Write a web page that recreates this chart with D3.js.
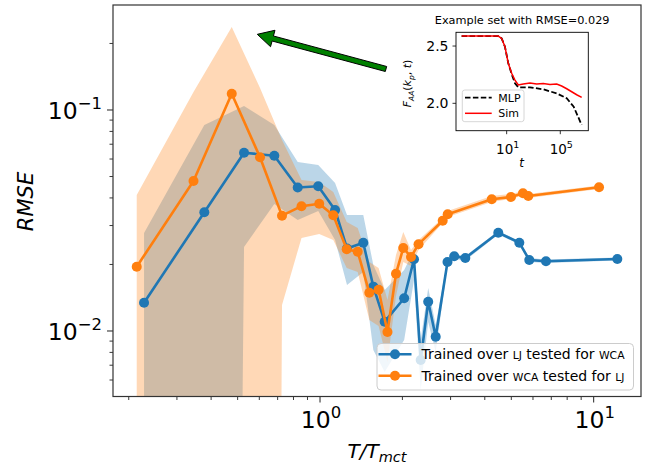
<!DOCTYPE html>
<html><head><meta charset="utf-8">
<script src="https://cdn.jsdelivr.net/npm/d3@7/dist/d3.min.js"></script>
<style>body{margin:0;background:#fff}svg{display:block}text{font-family:"DejaVu Sans",sans-serif;fill:#000}</style>
</head><body><svg id="c" width="662" height="467"></svg>
<script>
// ---------- data ----------
const blueT = [0.2275,0.3778,0.5277,0.6808,0.8289,0.985,1.135,1.255,1.439,1.566,1.723,2.030,2.205,2.333,2.485,2.647,2.923,3.093,3.396,4.481,5.349,5.817,6.694,12.20];
const blueRMSE = [0.01343,0.03444,0.06408,0.06210,0.04459,0.04516,0.03528,0.02362,0.02509,0.01587,0.01102,0.01407,0.02111,0.00739,0.01357,0.00942,0.02052,0.02178,0.02140,0.02785,0.02509,0.02096,0.02067,0.02118];
const blueLow = [1e-20,1e-20,0.02399,0.03756,0.03179,0.03491,0.02581,0.01615,0.01849,0.00820,0.00653,0.00911,0.01701,0.00541,0.01098,0.00804,0.01989,0.02118,0.02084,0.02733,0.02463,0.02052,0.02031,0.02084];
const blueHigh = [0.02775,0.08552,0.1042,0.08552,0.05817,0.05638,0.04674,0.03349,0.03349,0.01989,0.01533,0.01888,0.02325,0.00911,0.01566,0.01064,0.02118,0.02231,0.02184,0.02834,0.02553,0.02140,0.02106,0.02152];

const orangeT = [0.2139,0.3449,0.4758,0.6036,0.7263,0.8558,0.9933,1.118,1.252,1.373,1.514,1.637,1.764,1.895,2.015,2.150,2.291,2.807,2.928,4.242,4.986,5.516,5.768,10.46];
const orangeRMSE = [0.01954,0.04773,0.1185,0.06114,0.03324,0.03671,0.03764,0.03342,0.02343,0.02283,0.01490,0.01538,0.00990,0.01817,0.02375,0.02162,0.02471,0.03155,0.03374,0.03944,0.04040,0.04199,0.04083,0.04468];
const orangeLow = [1e-20,1e-20,1e-20,1e-20,0.01311,0.02635,0.02747,0.02581,0.01928,0.01849,0.01122,0.01053,0.00724,0.01440,0.02052,0.01968,0.02325,0.03081,0.03280,0.03835,0.03957,0.04103,0.03998,0.04390];
const orangeHigh = [0.04125,0.1206,0.2375,0.1258,0.07315,0.04824,0.04723,0.04256,0.03113,0.02925,0.02052,0.01928,0.01381,0.02207,0.02805,0.02325,0.02581,0.03246,0.03491,0.04083,0.04168,0.04300,0.04168,0.04554];

const xMajor = [1, 10];
const xMinor = [0.2,0.3,0.4,0.5,0.6,0.7,0.8,0.9,2,3,4,5,6,7,8,9];
const yMajor = [0.01, 0.1];
const yMinor = [0.006,0.007,0.008,0.009,0.02,0.03,0.04,0.05,0.06,0.07,0.08,0.09,0.2];
const xMajorLabels = ["0", "1"];
const yMajorLabels = ["\u22122", "\u22121"];

const legendLabels = [["Trained over ", "LJ", " tested for ", "WCA"], ["Trained over ", "WCA", " tested for ", "LJ"]];

// inset: example curve
const simT = [0.00437,2.36,4.24,7.46,13.2,23.6,41.6,73.5,173,548,1730,5380,17000,53800,127000,301000,710000,1670000,3950000];
const simF = [2.587,2.587,2.567,2.494,2.349,2.262,2.203,2.160,2.168,2.177,2.168,2.173,2.164,2.168,2.151,2.127,2.101,2.075,2.052];
const mlpT = [0.00437,2.36,4.24,7.46,13.2,23.6,41.6,73.5,548,5380,53800,301000,1000000,3950000];
const mlpF = [2.587,2.587,2.567,2.494,2.349,2.255,2.175,2.140,2.140,2.122,2.087,2.044,1.970,1.811];
const insetXTicks = [10, 100000];
const insetXLabels = ["1", "5"];
const insetYTicks = [2.0, 2.5];
const insetYLabels = ["2.0", "2.5"];

// annotation arrow (data coords): tail -> tip
const arrowTail = [1.742, 0.1533];
const arrowTip = [0.590, 0.220];

const C0 = "#1f77b4", C1 = "#ff7f0e";

// ---------- main axes ----------
const svg = d3.select("#c");
svg.append("rect").attr("width",662).attr("height",467).attr("fill","#fff");
const L = 113, R = 641, T = 5, B = 396.5;
const x = d3.scaleLog().domain([0.1752, 14.89]).range([L, R]);
const y = d3.scaleLog().domain([0.005053, 0.2986]).range([B, T]);

svg.append("clipPath").attr("id","clip").append("rect").attr("x",L).attr("y",T).attr("width",R-L).attr("height",B-T);
const plot = svg.append("g").attr("clip-path","url(#clip)");

function zipS(t, v, lo, hi){ return t.map((d,i)=>({t:d, v:v[i], lo:lo[i], hi:hi[i]})); }
const blue = zipS(blueT, blueRMSE, blueLow, blueHigh);
const orange = zipS(orangeT, orangeRMSE, orangeLow, orangeHigh);

const area = d3.area().x(d=>x(d.t)).y0(d=>y(d.lo)).y1(d=>y(d.hi));
plot.append("path").datum(blue).attr("d", area).attr("fill", C0).attr("fill-opacity", 0.3);
plot.append("path").datum(orange).attr("d", area).attr("fill", C1).attr("fill-opacity", 0.3);

const line = d3.line().x(d=>x(d.t)).y(d=>y(d.v));
[[blue, C0],[orange, C1]].forEach(([s,c])=>{
  plot.append("path").datum(s).attr("d", line).attr("fill","none").attr("stroke",c).attr("stroke-width",2.6).attr("stroke-linejoin","round");
  plot.selectAll(null).data(s).enter().append("circle").attr("cx",d=>x(d.t)).attr("cy",d=>y(d.v)).attr("r",5).attr("fill",c);
});

// ticks
const tickCol = "#222";
xMinor.forEach(v=>svg.append("line").attr("x1",x(v)).attr("x2",x(v)).attr("y1",B).attr("y2",B+3.5).attr("stroke",tickCol).attr("stroke-width",0.9));
xMajor.forEach((v,i)=>{
  svg.append("line").attr("x1",x(v)).attr("x2",x(v)).attr("y1",B).attr("y2",B+6).attr("stroke",tickCol).attr("stroke-width",1);
  const t = svg.append("text").attr("x",x(v)+1).attr("y",427.5).attr("text-anchor","middle").attr("font-size",23.5);
  t.append("tspan").text("10");
  t.append("tspan").attr("dy",-10).attr("font-size",16.5).text(xMajorLabels[i]);
});
yMinor.forEach(v=>svg.append("line").attr("x1",L-3.5).attr("x2",L).attr("y1",y(v)).attr("y2",y(v)).attr("stroke",tickCol).attr("stroke-width",0.9));
yMajor.forEach((v,i)=>{
  svg.append("line").attr("x1",L-6).attr("x2",L).attr("y1",y(v)).attr("y2",y(v)).attr("stroke",tickCol).attr("stroke-width",1);
  const t = svg.append("text").attr("x",102).attr("y",y(v)+9).attr("text-anchor","end").attr("font-size",23.5);
  t.append("tspan").text("10");
  t.append("tspan").attr("dy",-10).attr("font-size",16.5).text(yMajorLabels[i]);
});
svg.append("rect").attr("x",L).attr("y",T).attr("width",R-L).attr("height",B-T).attr("fill","none").attr("stroke","#333").attr("stroke-width",1.2);

// axis labels
const xl = svg.append("text").attr("x",377).attr("y",458).attr("text-anchor","middle").attr("font-size",20).attr("font-style","italic");
xl.append("tspan").text("T/T");
xl.append("tspan").attr("dy",4).attr("font-size",14.5).text("mct");
svg.append("text").attr("transform","translate(33,201.5) rotate(-90)").attr("text-anchor","middle").attr("font-size",21).attr("font-style","italic").text("RMSE");

// legend
const lg = svg.append("g");
lg.append("rect").attr("x",377).attr("y",343.5).attr("width",256.5).attr("height",46.5).attr("rx",4).attr("fill","#fff").attr("fill-opacity",0.8).attr("stroke","#cccccc").attr("stroke-width",1);
[[C0,354.3],[C1,375.7]].forEach(([c,yy],i)=>{
  lg.append("line").attr("x1",378.5).attr("x2",411.5).attr("y1",yy).attr("y2",yy).attr("stroke",c).attr("stroke-width",2.6);
  lg.append("circle").attr("cx",395).attr("cy",yy).attr("r",5).attr("fill",c);
  const t = lg.append("text").attr("x",421.5).attr("y",yy+5).attr("font-size",14);
  legendLabels[i].forEach((s,j)=>t.append("tspan").attr("font-size", j%2===1?10.8:14).text(s));
});

// arrow
(function(){
  const x0 = x(arrowTail[0]), y0 = y(arrowTail[1]), x1 = x(arrowTip[0]), y1 = y(arrowTip[1]);
  const dx = x1-x0, dy = y1-y0, len = Math.hypot(dx,dy), ux = dx/len, uy = dy/len, px = -uy, py = ux;
  const hw = 2.6, hh = 8.5, hl = 16;
  const bx = x1 - ux*hl, by = y1 - uy*hl;
  const pts = [[x0+px*hw,y0+py*hw],[bx+px*hw,by+py*hw],[bx+px*hh,by+py*hh],[x1,y1],[bx-px*hh,by-py*hh],[bx-px*hw,by-py*hw],[x0-px*hw,y0-py*hw]];
  svg.append("polygon").attr("points",pts.map(p=>p.join(",")).join(" ")).attr("fill","#008000").attr("stroke","#000").attr("stroke-width",1);
})();

// ---------- inset ----------
const iL = 456, iR = 588.3, iT = 32.3, iB = 130.7;
const xi = d3.scaleLog().domain([0.00166, 12300000]).range([iL, iR]);
const yi = d3.scaleLinear().domain([1.761, 2.62]).range([iB, iT]);
const ins = svg.append("g");
ins.append("rect").attr("x",iL).attr("y",iT).attr("width",iR-iL).attr("height",iB-iT).attr("fill","#fff");
ins.append("clipPath").attr("id","iclip").append("rect").attr("x",iL).attr("y",iT).attr("width",iR-iL).attr("height",iB-iT);
const ip = ins.append("g").attr("clip-path","url(#iclip)");
const iline = d3.line().x(d=>xi(d[0])).y(d=>yi(d[1]));
ip.append("path").datum(mlpT.map((t,i)=>[t,mlpF[i]])).attr("d",iline).attr("fill","none").attr("stroke","#000").attr("stroke-width",1.8).attr("stroke-dasharray","5.5,2.4");
ip.append("path").datum(simT.map((t,i)=>[t,simF[i]])).attr("d",iline).attr("fill","none").attr("stroke","#ff0000").attr("stroke-width",1.5);
insetXTicks.forEach((v,i)=>{
  ins.append("line").attr("x1",xi(v)).attr("x2",xi(v)).attr("y1",iB).attr("y2",iB+3.5).attr("stroke","#000").attr("stroke-width",0.8);
  const t = ins.append("text").attr("x",xi(v)+1).attr("y",154).attr("text-anchor","middle").attr("font-size",13.5);
  t.append("tspan").text("10");
  t.append("tspan").attr("dy",-6).attr("font-size",9.5).text(insetXLabels[i]);
});
insetYTicks.forEach((v,i)=>{
  ins.append("line").attr("x1",iL-3.5).attr("x2",iL).attr("y1",yi(v)).attr("y2",yi(v)).attr("stroke","#000").attr("stroke-width",0.8);
  ins.append("text").attr("x",448.5).attr("y",yi(v)+5).attr("text-anchor","end").attr("font-size",14).text(insetYLabels[i]);
});
ins.append("rect").attr("x",iL).attr("y",iT).attr("width",iR-iL).attr("height",iB-iT).attr("fill","none").attr("stroke","#000").attr("stroke-width",0.9);
ins.append("text").attr("x",(iL+iR)/2).attr("y",23.5).attr("text-anchor","middle").attr("font-size",11.3).attr("fill","#222").text("Example set with RMSE=0.029");
ins.append("text").attr("x",521.7).attr("y",166.5).attr("text-anchor","middle").attr("font-size",12).attr("font-style","italic").text("t");
const fy = ins.append("text").attr("transform","translate(411,83.5) rotate(-90)").attr("text-anchor","middle").attr("font-size",11).attr("font-style","italic");
fy.append("tspan").text("F");
fy.append("tspan").attr("dy",2.5).attr("font-size",7.5).text("AA");
fy.append("tspan").attr("dy",-2.5).attr("font-style","normal").text("(");
fy.append("tspan").text("k");
fy.append("tspan").attr("dy",2.5).attr("font-size",7.5).text("p");
fy.append("tspan").attr("dy",-2.5).attr("font-style","normal").text(", ");
fy.append("tspan").text("t");
fy.append("tspan").attr("font-style","normal").text(")");
// inset legend
ins.append("rect").attr("x",462.3).attr("y",90).attr("width",61.7).attr("height",31.7).attr("rx",2.5).attr("fill","#fff").attr("fill-opacity",0.8).attr("stroke","#cccccc").attr("stroke-width",0.8);
ins.append("line").attr("x1",465).attr("x2",491.7).attr("y1",97.7).attr("y2",97.7).attr("stroke","#000").attr("stroke-width",1.8).attr("stroke-dasharray","5.5,2.4");
ins.append("line").attr("x1",465).attr("x2",491.7).attr("y1",113.3).attr("y2",113.3).attr("stroke","#ff0000").attr("stroke-width",1.5);
ins.append("text").attr("x",498.3).attr("y",101.5).attr("font-size",11).text("MLP");
ins.append("text").attr("x",498.3).attr("y",117.2).attr("font-size",11).text("Sim");
</script></body></html>
